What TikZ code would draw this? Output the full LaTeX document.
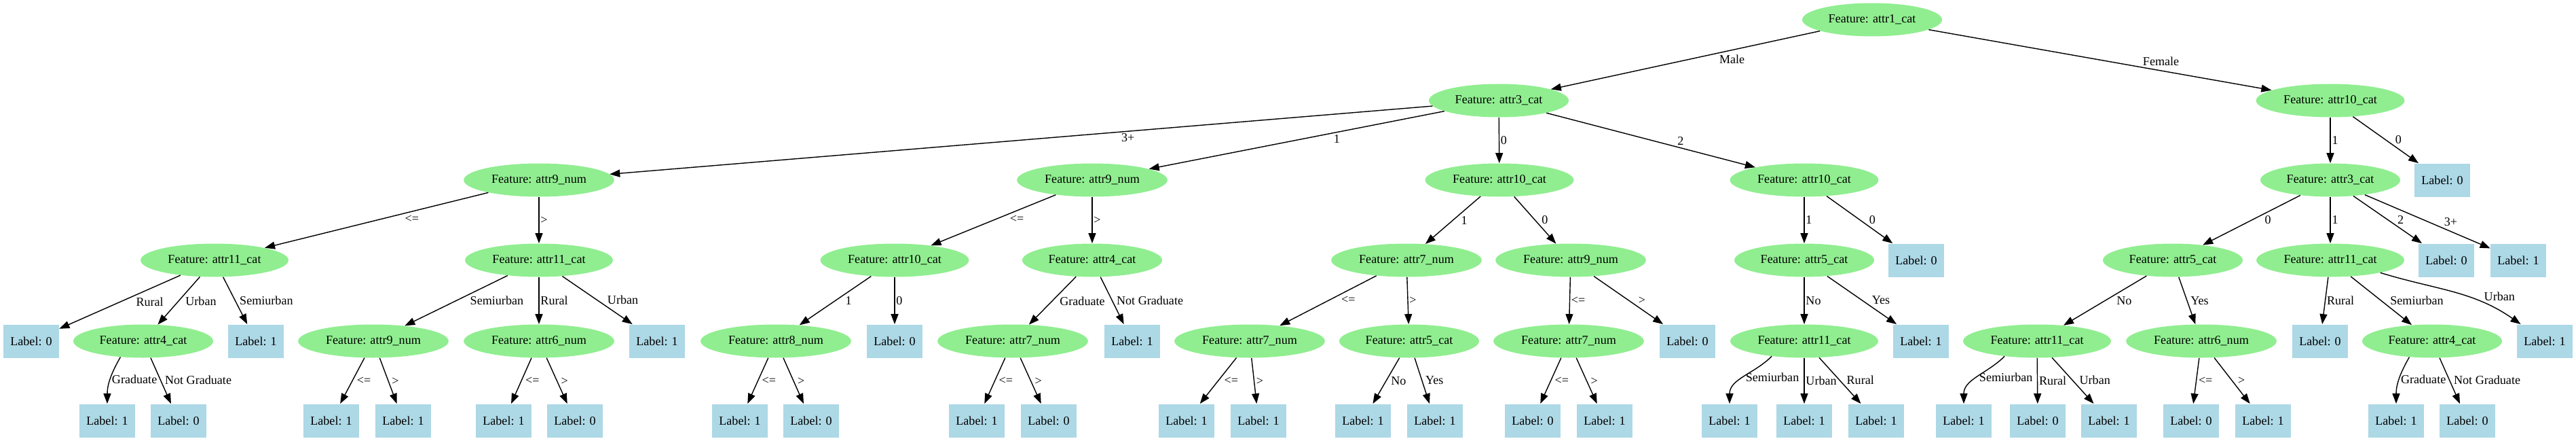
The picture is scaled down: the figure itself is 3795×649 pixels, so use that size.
\documentclass[tikz,border=0pt]{standalone}
\usepackage{fontspec}
\setmainfont{Liberation Serif}
\usepackage{tikz}
\usetikzlibrary{shapes,arrows.meta}
\definecolor{featgreen}{HTML}{90EE90}
\definecolor{leafblue}{HTML}{ADD8E6}

\begin{document}
\begin{tikzpicture}[x=0.2mm,y=-0.2mm,
    font=\fontsize{10.3}{12}\selectfont,
    >={Triangle[length=3mm,width=2.2mm]},
    feat/.style={ellipse,fill=featgreen,inner xsep=1.7mm,inner ysep=0.5mm,minimum height=9.8mm},
    leaf/.style={rectangle,fill=leafblue,minimum width=16.4mm,minimum height=9.8mm},
    lL/.style={pos=0.38,anchor=north west,inner sep=1pt},
    lR/.style={pos=0.62,anchor=south west,inner sep=1pt},
    lV/.style={midway,anchor=west,inner sep=1pt},
    lC/.style={midway,anchor=west,inner sep=1pt}]
    \useasboundingbox (0,0) rectangle (3795,649);

    % root and first split
    \node[feat] (R) at (2758,29) {Feature: attr1\_cat};
    \node[feat] (M) at (2208,148) {Feature: attr3\_cat};
    \node[feat] (F) at (3433,148) {Feature: attr10\_cat};

    \node[feat] (M3) at (794,265) {Feature: attr9\_num};
    \node[feat] (M1) at (1609,265) {Feature: attr9\_num};
    \node[feat] (M0) at (2209,265) {Feature: attr10\_cat};
    \node[feat] (M2) at (2658,265) {Feature: attr10\_cat};
    \node[feat] (F1) at (3433,265) {Feature: attr3\_cat};
    \node[leaf] (F0) at (3598,265) {Label: 0};

    \node[feat] (M3a) at (316,383) {Feature: attr11\_cat};
    \node[feat] (M3b) at (794,383) {Feature: attr11\_cat};
    \node[feat] (M1a) at (1318,383) {Feature: attr10\_cat};
    \node[feat] (M1b) at (1609,383) {Feature: attr4\_cat};
    \node[feat] (M0a) at (2072,383) {Feature: attr7\_num};
    \node[feat] (M0b) at (2314,383) {Feature: attr9\_num};
    \node[feat] (M2a) at (2658,383) {Feature: attr5\_cat};
    \node[leaf] (M2b) at (2823,383) {Label: 0};
    \node[feat] (F1a) at (3201,383) {Feature: attr5\_cat};
    \node[feat] (F1b) at (3433,383) {Feature: attr11\_cat};
    \node[leaf] (F1c) at (3604,383) {Label: 0};
    \node[leaf] (F1d) at (3710,383) {Label: 1};

    \node[leaf] (M3aa) at (46,502) {Label: 0};
    \node[feat] (M3ab) at (211,502) {Feature: attr4\_cat};
    \node[leaf] (M3ac) at (377,502) {Label: 1};
    \node[feat] (M3ba) at (550,502) {Feature: attr9\_num};
    \node[feat] (M3bb) at (794,502) {Feature: attr6\_num};
    \node[leaf] (M3bc) at (968,502) {Label: 1};
    \node[feat] (M1aa) at (1143,502) {Feature: attr8\_num};
    \node[leaf] (M1ab) at (1318,502) {Label: 0};
    \node[feat] (M1ba) at (1492,502) {Feature: attr7\_num};
    \node[leaf] (M1bb) at (1668,502) {Label: 1};
    \node[feat] (M0aa) at (1841,502) {Feature: attr7\_num};
    \node[feat] (M0ab) at (2076,502) {Feature: attr5\_cat};
    \node[feat] (M0ba) at (2311,502) {Feature: attr7\_num};
    \node[leaf] (M0bb) at (2486,502) {Label: 0};
    \node[feat] (M2aa) at (2658,502) {Feature: attr11\_cat};
    \node[leaf] (M2ab) at (2830,502) {Label: 1};
    \node[feat] (F1aa) at (3001,502) {Feature: attr11\_cat};
    \node[feat] (F1ab) at (3243,502) {Feature: attr6\_num};
    \node[leaf] (F1ba) at (3418,502) {Label: 0};
    \node[feat] (F1bb) at (3583,502) {Feature: attr4\_cat};
    \node[leaf] (F1bc) at (3749,502) {Label: 1};

    % bottom row of leaves
    \node[leaf] (M3aba) at (158,619) {Label: 1};
    \node[leaf] (M3abb) at (263,619) {Label: 0};
    \node[leaf] (M3baa) at (488,619) {Label: 1};
    \node[leaf] (M3bab) at (594,619) {Label: 1};
    \node[leaf] (M3bba) at (742,619) {Label: 1};
    \node[leaf] (M3bbb) at (847,619) {Label: 0};
    \node[leaf] (M1aaa) at (1090,619) {Label: 1};
    \node[leaf] (M1aab) at (1195,619) {Label: 0};
    \node[leaf] (M1baa) at (1439,619) {Label: 1};
    \node[leaf] (M1bab) at (1545,619) {Label: 0};
    \node[leaf] (M0aaa) at (1748,619) {Label: 1};
    \node[leaf] (M0aab) at (1854,619) {Label: 1};
    \node[leaf] (M0aba) at (2008,619) {Label: 1};
    \node[leaf] (M0abb) at (2114,619) {Label: 1};
    \node[leaf] (M0baa) at (2258,619) {Label: 0};
    \node[leaf] (M0bab) at (2364,619) {Label: 1};
    \node[leaf] (M2aaa) at (2548,619) {Label: 1};
    \node[leaf] (M2aab) at (2658,619) {Label: 1};
    \node[leaf] (M2aac) at (2764,619) {Label: 1};
    \node[leaf] (F1aaa) at (2893,619) {Label: 1};
    \node[leaf] (F1aab) at (3002,619) {Label: 0};
    \node[leaf] (F1aac) at (3107,619) {Label: 1};
    \node[leaf] (F1aba) at (3228,619) {Label: 0};
    \node[leaf] (F1abb) at (3334,619) {Label: 1};
    \node[leaf] (F1bba) at (3530,619) {Label: 1};
    \node[leaf] (F1bbb) at (3635,619) {Label: 0};

    \path[->][thick]
    (R) edge node[lL]{Male} (M)
    (R) edge node[lR]{Female} (F)
    (M) edge node[lL]{3+} (M3)
    (M) edge node[lL]{1} (M1)
    (M) edge node[lV]{0} (M0)
    (M) edge node[lR]{2} (M2)
    (F) edge node[lV]{1} (F1)
    (F) edge node[lR]{0} (F0)
    (M3) edge node[lL]{<=} (M3a)
    (M3) edge node[lV]{>} (M3b)
    (M1) edge node[lL]{<=} (M1a)
    (M1) edge node[lV]{>} (M1b)
    (M0) edge node[lL]{1} (M0a)
    (M0) edge node[lR]{0} (M0b)
    (M2) edge node[lV]{1} (M2a)
    (M2) edge node[lR]{0} (M2b)
    (F1) edge node[lL]{0} (F1a)
    (F1) edge node[lV]{1} (F1b)
    (F1) edge node[lR]{2} (F1c)
    (F1) edge node[lR]{3+} (F1d)
    (M3a) edge node[lL]{Rural} (M3aa)
    (M3a) edge node[lL]{Urban} (M3ab)
    (M3a) edge node[lR]{Semiurban} (M3ac)
    (M3b) edge node[lL]{Semiurban} (M3ba)
    (M3b) edge node[lV]{Rural} (M3bb)
    (M3b) edge node[lR]{Urban} (M3bc)
    (M1a) edge node[lL]{1} (M1aa)
    (M1a) edge node[lV]{0} (M1ab)
    (M1b) edge node[lL]{Graduate} (M1ba)
    (M1b) edge node[lR]{Not Graduate} (M1bb)
    (M0a) edge node[lL]{<=} (M0aa)
    (M0a) edge node[lV]{>} (M0ab)
    (M0b) edge node[lV]{<=} (M0ba)
    (M0b) edge node[lR]{>} (M0bb)
    (M2a) edge node[lV]{No} (M2aa)
    (M2a) edge node[lR]{Yes} (M2ab)
    (F1a) edge node[lL]{No} (F1aa)
    (F1a) edge node[lR]{Yes} (F1ab)
    (F1b) edge node[lV]{Rural} (F1ba)
    (F1b) edge node[lR]{Semiurban} (F1bb)
    (F1b.-14) edge[out=-17,in=145] node[lR,pos=0.72]{Urban} (F1bc);

    \path[->][thick]
    (M3ab.-145) edge[out=-120,in=90] node[lC]{Graduate} (M3aba)
    (M3ab) edge node[lR]{Not Graduate} (M3abb)
    (M3ba) edge node[lL]{<=} (M3baa)
    (M3ba) edge node[lR]{>} (M3bab)
    (M3bb) edge node[lL]{<=} (M3bba)
    (M3bb) edge node[lR]{>} (M3bbb)
    (M1aa) edge node[lL]{<=} (M1aaa)
    (M1aa) edge node[lR]{>} (M1aab)
    (M1ba) edge node[lL]{<=} (M1baa)
    (M1ba) edge node[lR]{>} (M1bab)
    (M0aa) edge node[lL]{<=} (M0aaa)
    (M0aa) edge node[lR]{>} (M0aab)
    (M0ab) edge node[lL]{No} (M0aba)
    (M0ab) edge node[lR]{Yes} (M0abb)
    (M0ba) edge node[lL]{<=} (M0baa)
    (M0ba) edge node[lR]{>} (M0bab)
    (M2aa.-155) edge[out=-135,in=90] node[lC]{Semiurban} (M2aaa)
    (M2aa) edge node[lV]{Urban} (M2aab)
    (M2aa) edge node[lR]{Rural} (M2aac)
    (F1aa.-155) edge[out=-135,in=90] node[lC]{Semiurban} (F1aaa)
    (F1aa) edge node[lV]{Rural} (F1aab)
    (F1aa) edge node[lR]{Urban} (F1aac)
    (F1ab) edge node[lL]{<=} (F1aba)
    (F1ab) edge node[lR]{>} (F1abb)
    (F1bb.-145) edge[out=-120,in=90] node[lC]{Graduate} (F1bba)
    (F1bb) edge node[lR]{Not Graduate} (F1bbb);
\end{tikzpicture}
\end{document}
